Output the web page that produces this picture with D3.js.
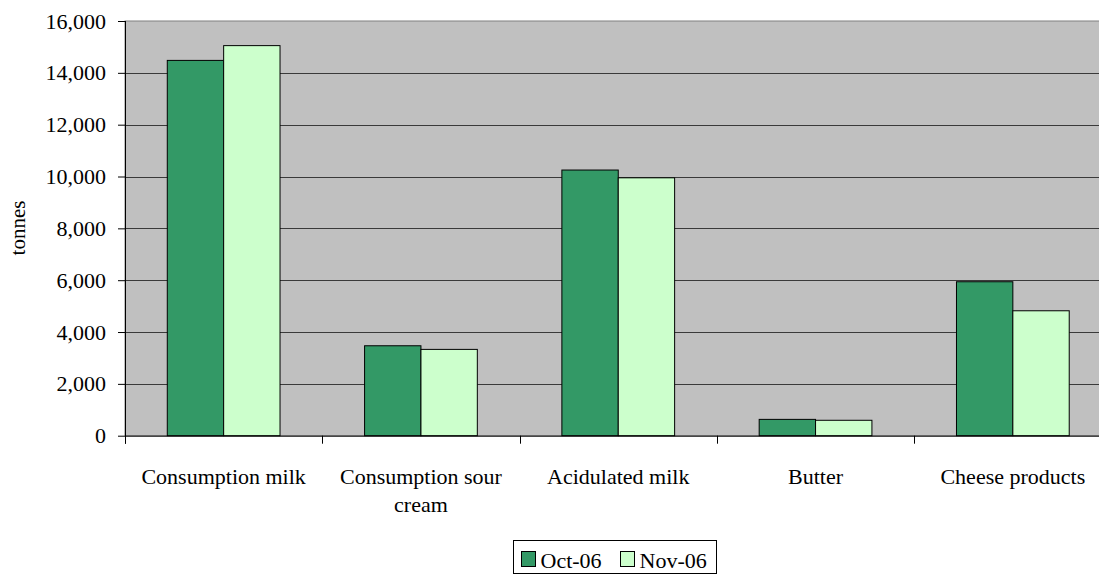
<!DOCTYPE html>
<html>
<head>
<meta charset="utf-8">
<script src="https://cdn.jsdelivr.net/npm/d3@7"></script>
<style>
  body { margin: 0; background: #fff; }
</style>
</head>
<body>
<svg id="chart" width="1099" height="575"></svg>
<script>
const categories = ['Consumption milk', 'Consumption sour cream', 'Acidulated milk', 'Butter', 'Cheese products'];
const seriesNames = ['Oct-06', 'Nov-06'];
const oct06 = [14480, 3470, 10250, 630, 5940];
const nov06 = [15050, 3330, 9950, 595, 4820];
const yTicks = [0, 2000, 4000, 6000, 8000, 10000, 12000, 14000, 16000];
const colors = ['#339966', '#ccffcc'];

// category label lines (wrapped like the original)
const labelLines = [['Consumption milk'], ['Consumption sour', 'cream'], ['Acidulated milk'], ['Butter'], ['Cheese products']];

const fontFamily = "'Liberation Serif', 'Times New Roman', serif";
const plotLeft = 125, plotTop = 21, plotBottom = 435.7;
const catWidth = 197.3;
const plotRight = plotLeft + catWidth * categories.length;

const svg = d3.select('#chart');

const x = d3.scaleBand()
            .domain(categories)
            .range([plotLeft, plotRight])
            .padding(0);

const xInner = d3.scaleBand()
                 .domain(seriesNames)
                 .range([0, x.bandwidth()])
                 .paddingInner(0)
                 .paddingOuter(0.75);

const y = d3.scaleLinear()
            .domain([0, 16000])
            .range([plotBottom, plotTop]);

// plot background
svg.append('rect')
   .attr('x', plotLeft)
   .attr('y', plotTop)
   .attr('width', plotRight - plotLeft)
   .attr('height', plotBottom - plotTop)
   .attr('fill', '#c0c0c0')
   .attr('stroke', '#808080')
   .attr('stroke-width', 1);

// gridlines
svg.append('g')
   .selectAll('line')
   .data(yTicks.filter(d => d > 0 && d < 16000))
   .enter()
   .append('line')
   .attr('x1', plotLeft)
   .attr('x2', plotRight)
   .attr('y1', d => Math.round(y(d)) + 0.5)
   .attr('y2', d => Math.round(y(d)) + 0.5)
   .attr('stroke', '#3a3a3a')
   .attr('stroke-width', 1);

// bars
const data = [];
categories.forEach((c, i) => {
    data.push({ cat: c, s: seriesNames[0], v: oct06[i], color: colors[0] });
    data.push({ cat: c, s: seriesNames[1], v: nov06[i], color: colors[1] });
});

svg.append('g')
   .selectAll('rect')
   .data(data)
   .enter()
   .append('rect')
   .attr('x', d => x(d.cat) + xInner(d.s))
   .attr('y', d => y(d.v))
   .attr('width', xInner.bandwidth())
   .attr('height', d => plotBottom - y(d.v))
   .attr('fill', d => d.color)
   .attr('stroke', '#000')
   .attr('stroke-width', 1);

// y axis
const yAxis = d3.axisLeft(y)
                .tickValues(yTicks)
                .tickSize(7)
                .tickPadding(12)
                .tickFormat(d3.format(','));

const gy = svg.append('g')
              .attr('transform', 'translate(' + plotLeft + ',0)')
              .call(yAxis);
gy.attr('font-family', null).attr('font-size', null);
gy.selectAll('text').style('font-size', '22px').attr('fill', '#000');
gy.selectAll('line').attr('stroke', '#000');
gy.select('.domain').attr('stroke', '#000').attr('d', 'M0.5,' + plotTop + 'V' + (plotBottom + 8));

// x axis
const xAxis = d3.axisBottom(x)
                .tickSize(0)
                .tickFormat('');
const gx = svg.append('g')
              .attr('transform', 'translate(0,' + plotBottom + ')')
              .call(xAxis);
gx.select('.domain').attr('stroke', '#000').attr('d', 'M' + plotLeft + ',0.5H' + plotRight);

// category boundary ticks
svg.append('g')
   .selectAll('line')
   .data(d3.range(categories.length + 1))
   .enter()
   .append('line')
   .attr('x1', i => Math.round(plotLeft + i * x.step()) + 0.5)
   .attr('x2', i => Math.round(plotLeft + i * x.step()) + 0.5)
   .attr('y1', plotBottom)
   .attr('y2', plotBottom + 8)
   .attr('stroke', '#000');

// category labels
const labels = svg.append('g')
                  .selectAll('text')
                  .data(categories)
                  .enter()
                  .append('text')
                  .attr('text-anchor', 'middle')
                  .style('font-size', '22px');
labels.each(function(d, i) {
    const t = d3.select(this);
    labelLines[i].forEach((line, j) => {
        t.append('tspan')
         .attr('x', x(d) + x.bandwidth() / 2)
         .attr('y', 484 + j * 28)
         .text(line);
    });
});

// y title
svg.append('text')
   .attr('transform', 'translate(25,228) rotate(-90)')
   .attr('text-anchor', 'middle')
   .style('font-size', '21px')
   .text('tonnes');

// legend
const legend = svg.append('g');
legend.append('rect')
      .attr('x', 513.5)
      .attr('y', 540.5)
      .attr('width', 203)
      .attr('height', 33)
      .attr('fill', '#fff')
      .attr('stroke', '#000');

const legendX = [521.5, 620.5];
seriesNames.forEach((s, i) => {
    legend.append('rect')
          .attr('x', legendX[i])
          .attr('y', 551.5)
          .attr('width', 14)
          .attr('height', 15)
          .attr('fill', colors[i])
          .attr('stroke', '#000');
    legend.append('text')
          .attr('x', legendX[i] + 19)
          .attr('y', 568)
          .style('font-size', '22px')
          .text(s);
});

svg.selectAll('text')
   .style('font-family', fontFamily)
   .style('fill', '#000');
</script>
</body>
</html>
